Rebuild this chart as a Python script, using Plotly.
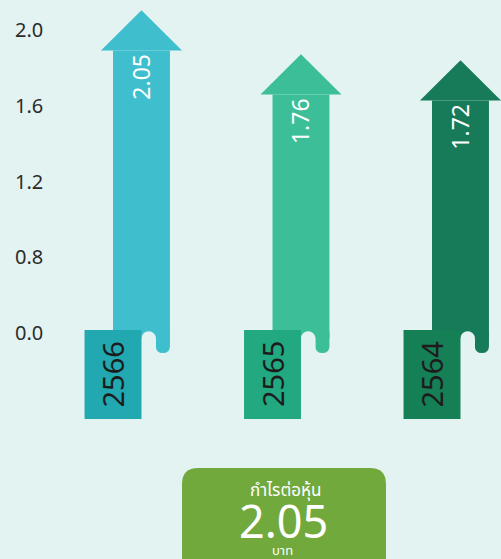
import plotly.graph_objects as go

# ---- data ----
years = ["2566", "2565", "2564"]
eps_values = [2.05, 1.76, 1.72]
tick_labels = ["2.0", "1.6", "1.2", "0.8", "0.0"]
tick_positions = [2.0, 1.5, 1.0, 0.5, 0.0]
summary_title = "กำไรต่อหุ้น"
summary_value = "2.05"
summary_unit = "บาท"

# ---- style ----
shaft_colors = ["#3fbfce", "#3cbf99", "#177b5a"]
box_colors = ["#21a8b1", "#23a982", "#157f56"]
bg = "#e3f3f1"
SHAFT_W = 0.357
HEAD_W = 0.508
HEAD_TOP = 0.08
HEAD_BASE = 0.185
BOX_TOP = 0.02
BOX_BOTTOM = -0.568
STRIP_L = 0.09
STRIP_BOTTOM = -0.132
FONT = "Noto Sans, Noto Sans Thai, Loma, Garuda, sans-serif"

xs = list(range(len(years)))

fig = go.Figure()
fig.add_trace(go.Bar(
    x=xs, y=[v - HEAD_BASE for v in eps_values], base=0, width=SHAFT_W,
    marker=dict(color=shaft_colors, line=dict(width=0)), hoverinfo="skip",
))

shapes = []
annotations = []
for i, (yr, v) in enumerate(zip(years, eps_values)):
    c = xs[i]
    hb = v - HEAD_BASE
    shapes.append(dict(
        type="path", xref="x", yref="y", layer="above",
        path=f"M {c - HEAD_W/2} {hb} L {c} {v + HEAD_TOP} L {c + HEAD_W/2} {hb} Z",
        fillcolor=shaft_colors[i], line=dict(width=0),
    ))
    shapes.append(dict(
        type="rect", xref="x", yref="y", layer="above",
        x0=c - SHAFT_W/2, x1=c + SHAFT_W/2, y0=-0.035, y1=0.001,
        fillcolor=shaft_colors[i], line=dict(width=0),
    ))
    l = c + STRIP_L
    r = c + SHAFT_W/2
    m = (l + r) / 2
    rr = 0.045
    shapes.append(dict(
        type="path", xref="x", yref="y", layer="above",
        path=(f"M {l} 0 L {l} {STRIP_BOTTOM + rr} Q {l} {STRIP_BOTTOM} {m} {STRIP_BOTTOM} "
              f"Q {r} {STRIP_BOTTOM} {r} {STRIP_BOTTOM + rr} L {r} 0 Z"),
        fillcolor=shaft_colors[i], line=dict(width=0),
    ))
    shapes.append(dict(
        type="circle", xref="x", yref="y", layer="above",
        x0=c, x1=c + STRIP_L, y0=-0.08, y1=0.012,
        fillcolor=bg, line=dict(width=0),
    ))
    shapes.append(dict(
        type="rect", xref="x", yref="y", layer="above",
        x0=c, x1=c + STRIP_L, y0=-0.7, y1=-0.034,
        fillcolor=bg, line=dict(width=0),
    ))
    shapes.append(dict(
        type="rect", xref="x", yref="y", layer="above",
        x0=c - SHAFT_W, x1=c, y0=BOX_BOTTOM, y1=BOX_TOP,
        fillcolor=box_colors[i], line=dict(width=0),
    ))
    annotations.append(dict(
        x=c - SHAFT_W/2, y=(BOX_TOP + BOX_BOTTOM) / 2, xref="x", yref="y",
        xanchor="center", yanchor="middle",
        text=yr, textangle=-90, showarrow=False,
        font=dict(family=FONT, size=29, color="#1c1c1c"),
    ))
    annotations.append(dict(
        x=c - 0.005, y=hb - 0.01, xref="x", yref="y", xanchor="center", yanchor="top",
        text=f"{v:.2f}", textangle=-90, showarrow=False,
        font=dict(family=FONT, size=23, color="#ffffff"),
    ))

# summary box (paper coords, margins are zero) with rounded top corners
W, H = 501, 559
bx0, bx1, by_top, rad = 182, 386, 468, 16
def px(x):
    return x / W
def py(y):
    return 1 - y / H
path = (f"M {px(bx0)} {py(H + 10)} L {px(bx0)} {py(by_top + rad)} "
        f"Q {px(bx0)} {py(by_top)} {px(bx0 + rad)} {py(by_top)} "
        f"L {px(bx1 - rad)} {py(by_top)} Q {px(bx1)} {py(by_top)} {px(bx1)} {py(by_top + rad)} "
        f"L {px(bx1)} {py(H + 10)} Z")
shapes.append(dict(type="path", xref="paper", yref="paper", layer="above",
                   path=path, fillcolor="#72a93d", line=dict(width=0)))
annotations += [
    dict(x=px(285), y=py(489), xref="paper", yref="paper", xanchor="center", yanchor="middle",
         text=summary_title, showarrow=False, font=dict(family=FONT, size=17, color="#ffffff")),
    dict(x=px(283), y=py(520), xref="paper", yref="paper", xanchor="center", yanchor="middle",
         text=summary_value, showarrow=False, font=dict(family=FONT, size=45, color="#ffffff")),
    dict(x=px(282), y=py(550), xref="paper", yref="paper", xanchor="center", yanchor="middle",
         text=summary_unit, showarrow=False, font=dict(family=FONT, size=13, color="#ffffff")),
]

fig.update_layout(
    width=W, height=H, margin=dict(l=0, r=0, t=0, b=0),
    paper_bgcolor=bg, plot_bgcolor=bg, showlegend=False,
    shapes=shapes, annotations=annotations,
    xaxis=dict(range=[-0.887, 2.254], visible=False, fixedrange=True),
    yaxis=dict(range=[-1.4917, 2.198], tickvals=tick_positions, ticktext=tick_labels,
               ticklabelposition="inside", ticklabelstandoff=12, showgrid=False,
               zeroline=False, showline=False, ticks="", fixedrange=True,
               tickfont=dict(family=FONT, size=20, color="#2b2b2b")),
)

fig.write_html("out.html", config={"displayModeBar": False},
               post_script="document.body.style.margin='0';document.body.style.overflow='hidden';")
